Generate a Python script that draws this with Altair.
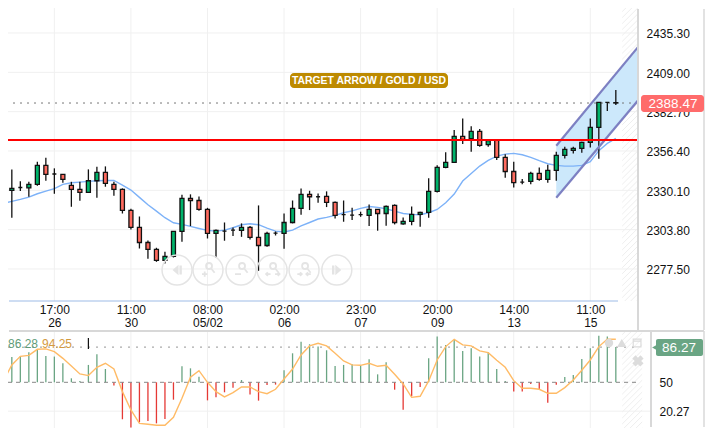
import altair as alt
import pandas as pd

FONT = "Liberation Sans"

highs = [2334.1,2344.1,2336.1,2335.8,2349.2,2351.9,2344.8,2340.7,2335.8,2335.8,2344.1,2345.9,2346.1,2335.8,2331.4,2317.8,2312.6,2296.6,2291.7,2289.0,2302.6,2327.1,2327.4,2326.0,2318.4,2303.9,2308.6,2305.3,2308.0,2306.2,2320.0,2302.4,2302.6,2314.6,2323.3,2331.4,2329.8,2328.0,2329.4,2322.7,2323.3,2318.4,2315.8,2320.7,2317.3,2320.0,2320.7,2312.0,2319.3,2315.8,2338.1,2346.8,2355.5,2370.4,2378.2,2372.9,2371.1,2363.7,2364.2,2354.3,2349.2,2337.6,2342.5,2345.4,2347.2,2355.9,2359.3,2359.3,2362.6,2378.2,2389.1,2389.1,2397.2]
lows = [2322.5,2311.8,2329.6,2325.8,2333.2,2336.5,2327.8,2335.2,2319.1,2323.1,2328.5,2325.1,2332.5,2326.5,2314.6,2303.9,2291.2,2284.3,2282.3,2281.2,2285.2,2295.7,2306.2,2316.4,2297.9,2285.0,2296.4,2299.5,2299.0,2297.3,2276.3,2292.3,2299.9,2291.0,2308.0,2313.8,2316.9,2321.8,2318.9,2311.3,2309.1,2310.2,2312.4,2306.2,2303.1,2306.4,2307.3,2307.1,2306.8,2305.7,2311.8,2328.7,2344.8,2348.8,2361.0,2355.9,2359.3,2359.3,2350.3,2338.5,2332.0,2334.1,2334.1,2336.5,2335.2,2336.5,2351.4,2354.8,2355.2,2358.8,2351.2,2383.1,2387.1]
opens = [2325.1,2330.0,2332.0,2331.8,2334.1,2346.8,2341.0,2340.7,2333.4,2330.7,2328.7,2336.5,2342.1,2334.1,2330.7,2316.7,2305.3,2295.2,2290.6,2283.2,2285.9,2302.6,2324.7,2323.3,2317.3,2301.3,2302.8,2303.5,2303.3,2305.3,2298.6,2293.2,2301.5,2301.3,2308.6,2318.0,2327.4,2325.8,2326.0,2322.0,2313.8,2313.5,2313.8,2313.3,2317.3,2314.6,2320.0,2307.7,2309.3,2314.0,2315.3,2329.4,2345.4,2348.8,2366.2,2364.6,2369.5,2360.6,2363.7,2352.1,2342.7,2335.6,2336.1,2341.4,2337.4,2343.4,2353.5,2356.8,2358.1,2362.1,2372.2,2388.9,2388.7]
closes = [2330.0,2331.4,2332.0,2334.1,2346.8,2340.7,2341.0,2337.4,2330.7,2328.7,2336.5,2342.1,2334.7,2330.7,2316.7,2305.3,2295.2,2290.6,2283.2,2285.9,2302.6,2324.7,2323.3,2317.3,2301.3,2303.3,2302.8,2303.5,2305.3,2298.6,2293.2,2301.3,2301.5,2308.6,2318.0,2327.4,2325.8,2325.8,2322.0,2313.3,2313.8,2313.5,2313.8,2317.3,2314.6,2319.3,2308.6,2309.3,2314.0,2315.3,2329.4,2345.4,2348.8,2366.2,2364.2,2369.5,2360.1,2363.3,2352.1,2342.7,2335.2,2335.6,2341.4,2337.4,2343.4,2353.5,2357.5,2358.1,2362.1,2372.2,2388.9,2388.9,2388.47]
ma_idx = list(range(-1, 73))
ma = [2320.4,2321.3,2322.7,2324.0,2325.6,2327.8,2329.6,2331.2,2334.1,2335.2,2335.6,2336.1,2336.5,2336.7,2336.7,2333.6,2330.3,2325.4,2320.4,2316.2,2311.8,2308.4,2307.3,2306.0,2304.6,2303.3,2302.8,2303.5,2305.1,2307.1,2307.7,2307.1,2304.8,2302.8,2302.2,2303.5,2306.4,2308.6,2310.9,2312.0,2313.3,2315.1,2316.4,2318.0,2319.3,2318.7,2317.8,2316.2,2314.6,2314.0,2313.8,2315.1,2317.3,2321.8,2327.6,2336.3,2341.4,2346.3,2350.1,2353.0,2354.3,2354.8,2353.9,2352.1,2349.9,2347.9,2346.8,2346.3,2346.3,2346.8,2349.2,2356.6,2361.5,2364.8]
hist = [77.5,76.1,76.5,80.9,84.4,77.1,76.5,69.6,54.1,51.4,67.9,78.9,63.7,46.6,11.9,3.3,8.8,10.1,7.7,12.2,32.1,66.5,64.4,55.8,31.4,34.5,39.7,44.5,52.4,37.3,31.1,47.3,47.6,62.4,79.9,91.9,89.2,86.8,83.0,66.8,67.9,68.6,67.2,73.7,58.2,70.6,42.4,21.8,35.6,45.2,74.7,97.1,88.5,93.6,82.3,85.0,76.5,80.9,63.7,51.4,40.4,40.4,48.3,42.8,29.0,47.6,55.5,57.6,74.1,85.0,98.1,97.1,86.27]
signal = [36.9,51.4,67.9,76.8,77.8,84.0,84.4,81.6,74.7,66.8,58.6,56.9,65.5,69.6,63.7,40.4,21.5,7.7,6.7,5.7,5.7,13.9,33.5,55.2,62.0,50.0,40.4,34.9,39.3,45.2,45.2,40.4,38.3,42.8,53.4,63.7,78.2,87.5,90.2,87.5,79.9,72.0,67.9,67.5,69.6,66.5,67.5,58.2,48.3,34.5,35.6,51.4,73.0,86.8,94.3,88.5,87.5,82.3,80.6,72.7,65.5,51.7,43.8,43.8,42.8,38.7,38.7,44.5,52.4,62.4,73.0,86.8,94.3,94.3]

tick_idx = [6, 15, 24, 33, 42, 51, 60, 69]
tick_time = ["17:00", "11:00", "08:00", "02:00", "23:00", "20:00", "14:00", "11:00"]
tick_date = ["26", "30", "05/02", "06", "07", "09", "13", "15"]
price_ticks = [2277.5, 2303.8, 2330.1, 2356.4, 2382.7, 2409.0, 2435.3]
osc_ticks = [50, 20.27]
last_price = 2388.47
level_price = 2363.7
channel_x = [65, 74.65]
channel_up = [2359.9, 2426.2]
channel_lo = [2325.1, 2390.5]
osc_last = 86.27

WIDTH_MAIN, H_MAIN = 630, 293
WIDTH_OSC, H_OSC = 643, 98
R_EDGE = 696
XMIN = 0.55
XMAX_MAIN = XMIN + WIDTH_MAIN / 8.507
XMAX_OSC = XMIN + WIDTH_OSC / 8.507
PMIN, PMAX = 2256.1, 2452.0
VMIN, VMAX = 2.9, 103.9

GREEN, RED = "#00b36b", "#ff6b5f"
GRID = "#f0f0f0"
ICON = "#e4e4e4"

label_map = ",".join(f"{i}:'{t}|{d}'" for i, t, d in zip(tick_idx, tick_time, tick_date))
x_axis_main = alt.Axis(
    values=tick_idx, labelExpr=f"split(({{{label_map}}})[datum.value],'|')",
    grid=False, domain=False, ticks=False,
    labelFont=FONT, labelFontSize=12, labelColor="#111", labelPadding=3,
    labelLineHeight=13, labelFlush=False, labelOverlap=False, labelBaseline="top",
)
y_axis_main = alt.Axis(
    orient="right", values=price_ticks, format=".2f", grid=False,
    domain=False, ticks=False, labelFont=FONT, labelFontSize=12, labelColor="#111",
    labelPadding=8, labelAlign="left", labelOverlap=False, labelOffset=1,
)
x_axis_osc = alt.Axis(values=tick_idx, labels=False, grid=False, domain=False, ticks=False)
y_axis_osc = alt.Axis(
    orient="right", values=osc_ticks, labelExpr="datum.value", grid=False, domain=False, ticks=False,
    labelFont=FONT, labelFontSize=12, labelColor="#111", labelPadding=8, labelAlign="left", labelOverlap=False,
)


def xm():
    return alt.X("i:Q", scale=alt.Scale(domain=[XMIN, XMAX_MAIN], nice=False, zero=False, padding=0), axis=x_axis_main, title=None)


def ym(field="p"):
    return alt.Y(f"{field}:Q", scale=alt.Scale(domain=[PMIN, PMAX], nice=False, zero=False), axis=y_axis_main, title=None)


def xo():
    return alt.X("i:Q", scale=alt.Scale(domain=[XMIN, XMAX_OSC], nice=False, zero=False, padding=0), axis=x_axis_osc, title=None)


def yo(field="v"):
    return alt.Y(f"{field}:Q", scale=alt.Scale(domain=[VMIN, VMAX], nice=False, zero=False), axis=y_axis_osc, title=None)


hatch_df = pd.DataFrame(
    [{"i": 72.75 + k * 0.7 - 40, "i2": 72.75 + k * 0.7 + 40, "p": 2350 - 40 * 5.69, "p2": 2350 + 40 * 5.69} for k in range(-30, 30)]
)

df = pd.DataFrame({"i": list(range(len(highs))), "h": highs, "l": lows, "o": opens, "c": closes})
df["col"] = [GREEN if c >= o else RED for o, c in zip(opens, closes)]
ma_df = pd.DataFrame({"i": ma_idx, "p": ma})

hatch = alt.Chart(hatch_df).mark_rule(color="#eeeeee", strokeWidth=1, clip=True).encode(x=xm(), x2="i2:Q", y=ym(), y2="p2:Q")
mask = alt.Chart(pd.DataFrame({"i": [XMIN], "i2": [72.75], "p": [PMIN], "p2": [PMAX]})).mark_rect(color="white", clip=True).encode(
    x=xm(), x2="i2:Q", y=ym(), y2="p2:Q"
)
grid_v = alt.Chart(pd.DataFrame({"i": tick_idx})).mark_rule(color=GRID, strokeWidth=1, clip=True).encode(x=xm())
grid_h = alt.Chart(pd.DataFrame({"p": price_ticks})).mark_rule(color=GRID, strokeWidth=1, clip=True).encode(y=ym())

band_df = pd.DataFrame({"i": channel_x, "p": channel_up, "p2": channel_lo})
band = alt.Chart(band_df).mark_area(color="#cce8fb", opacity=1, clip=True).encode(x=xm(), y=ym(), y2="p2:Q")
band_up = alt.Chart(band_df).mark_line(color="#7d80c2", strokeWidth=2.2, clip=True).encode(x=xm(), y=ym())
band_lo = alt.Chart(band_df).mark_line(color="#7d80c2", strokeWidth=2.2, clip=True).encode(x=xm(), y=ym("p2"))

dotted = alt.Chart(pd.DataFrame({"p": [last_price]})).mark_rule(color="#777777", strokeWidth=1, strokeDash=[2, 5], clip=True).encode(y=ym())
ma_line = alt.Chart(ma_df).mark_line(color="#7db2f8", strokeWidth=1.4, clip=True).encode(x=xm(), y=ym())
wicks = alt.Chart(df).mark_rule(color="#111111", strokeWidth=1.3, clip=True).encode(x=xm(), y=ym("l"), y2="h:Q")
bodies = alt.Chart(df).mark_bar(size=4, stroke="#111111", strokeWidth=1.3, clip=True).encode(
    x=xm(), y=ym("o"), y2="c:Q", color=alt.Color("col:N", scale=None)
)
level = alt.Chart(pd.DataFrame({"p": [level_price]})).mark_rule(color="#ff0000", strokeWidth=2, clip=True).encode(y=ym())

icon_i = [20.42, 24.06, 27.94, 31.59, 35.35, 39.2]
icon_y = 2276.8
lens_path = "M-0.13 -0.27 A0.2 0.2 0 1 0 0.27 -0.27 A0.2 0.2 0 1 0 -0.13 -0.27 M0.2 -0.12 L0.44 0.18 "
icon_paths = [
    "M-0.3 0 L0.1 -0.35 L0.1 0.35 Z M0.16 -0.3 L0.32 -0.3 L0.32 0.3 L0.16 0.3 Z",
    lens_path + "M-0.4 0.27 L-0.05 0.27 M-0.22 0.1 L-0.22 0.45",
    lens_path + "M-0.4 0.27 L0 0.27",
    lens_path + "M-0.1 0.27 L-0.4 0.27 M-0.28 0.15 L-0.4 0.27 L-0.28 0.39 M0.2 0.27 L0.5 0.27 M0.38 0.15 L0.5 0.27 L0.38 0.39",
    lens_path + "M-0.45 0.27 L-0.15 0.27 M-0.27 0.15 L-0.15 0.27 L-0.27 0.39 M0.45 0.27 L0.15 0.27 M0.27 0.15 L0.15 0.27 L0.27 0.39",
    "M0.3 0 L-0.1 -0.35 L-0.1 0.35 Z M-0.16 -0.3 L-0.32 -0.3 L-0.32 0.3 L-0.16 0.3 Z",
]
icon_df = pd.DataFrame({"i": icon_i, "p": [icon_y] * 6, "path": icon_paths})
circles = alt.Chart(icon_df).mark_point(shape="circle", size=900, filled=False, color=ICON, strokeWidth=1.5, opacity=1).encode(x=xm(), y=ym())
glyph_line = alt.Chart(icon_df.iloc[1:5]).mark_point(filled=False, size=900, color=ICON, strokeWidth=1.8, opacity=1).encode(
    x=xm(), y=ym(), shape=alt.Shape("path:N", scale=None, legend=None)
)
glyph_fill = alt.Chart(icon_df.iloc[[0, 5]]).mark_point(filled=True, size=900, color=ICON, opacity=1).encode(
    x=xm(), y=ym(), shape=alt.Shape("path:N", scale=None, legend=None)
)

nav_line = alt.Chart().mark_rule(color="#9dbbe6", strokeWidth=1).encode(x=alt.value(1), x2=alt.value(610), y=alt.value(293))
sep_v = alt.Chart().mark_rule(color="#d8d8d8", strokeWidth=2).encode(x=alt.value(630), y=alt.value(1), y2=alt.value(322))
sep_r = alt.Chart().mark_rule(color="#d8d8d8", strokeWidth=1.5).encode(x=alt.value(R_EDGE), y=alt.value(1), y2=alt.value(322))
badge = alt.Chart().mark_rect(color="#bd8a00", cornerRadius=4).encode(
    x=alt.value(282), x2=alt.value(440), y=alt.value(65), y2=alt.value(80)
)
badge_t = alt.Chart().mark_text(text="TARGET ARROW / GOLD / USD", color="white", font=FONT, fontSize=10.4, fontWeight="bold").encode(
    x=alt.value(361), y=alt.value(73)
)
tag = alt.Chart().mark_rect(color="#ff6b6b", cornerRadius=3).encode(
    x=alt.value(633), x2=alt.value(R_EDGE), y=alt.value(87), y2=alt.value(104)
)
tag_t = alt.Chart().mark_text(text=f"{last_price:.2f}", color="white", font=FONT, fontSize=13.5).encode(
    x=alt.value(665), y=alt.value(96)
)

main = alt.layer(
    hatch, mask, grid_v, grid_h, band, dotted, ma_line, wicks, bodies, band_up, band_lo, level,
    circles, glyph_line, glyph_fill, nav_line, sep_v, sep_r, badge, badge_t, tag, tag_t,
).properties(width=WIDTH_MAIN, height=H_MAIN)

# oscillator panel
osc_df = pd.DataFrame({"i": list(range(len(hist))), "v": hist})
osc_df["base"] = 50
osc_df["col"] = ["#6aa583" if v >= 50 else "#e53935" for v in hist]
sig_df = pd.DataFrame({"i": ma_idx, "v": signal})

o_hatch_df = pd.DataFrame(
    [{"i": 72.75 + k * 0.7 - 10, "i2": 72.75 + k * 0.7 + 10, "v": 50 - 10 * 8.77, "v2": 50 + 10 * 8.77} for k in range(-20, 20)]
)
o_hatch = alt.Chart(o_hatch_df).mark_rule(color="#eeeeee", strokeWidth=1, clip=True).encode(x=xo(), x2="i2:Q", y=yo(), y2="v2:Q")
o_mask = alt.Chart(pd.DataFrame({"i": [XMIN, 75.1], "i2": [72.75, XMAX_OSC], "v": [VMIN, VMIN], "v2": [VMAX, VMAX]})).mark_rect(color="white", clip=True).encode(
    x=xo(), x2="i2:Q", y=yo(), y2="v2:Q"
)
o_grid_v = alt.Chart(pd.DataFrame({"i": tick_idx})).mark_rule(color=GRID, strokeWidth=1, clip=True).encode(x=xo())
o_grid = alt.Chart(pd.DataFrame({"v": [20.27], "i": [XMIN], "i2": [XMAX_OSC]})).mark_rule(color=GRID, strokeWidth=1, clip=True).encode(x=xo(), x2="i2:Q", y=yo())
o_dot = alt.Chart(pd.DataFrame({"v": [osc_last], "i": [XMIN], "i2": [74.6]})).mark_rule(color="#aaaaaa", strokeWidth=1.2, strokeDash=[2, 6], clip=True).encode(
    x=xo(), x2="i2:Q", y=yo()
)
o_zero = alt.Chart(pd.DataFrame({"v": [50], "i": [XMIN], "i2": [74.6]})).mark_rule(color="#888888", strokeWidth=1, strokeDash=[4, 4], clip=True).encode(
    x=xo(), x2="i2:Q", y=yo()
)
o_bars = alt.Chart(osc_df).mark_rule(strokeWidth=1.3, clip=True).encode(
    x=xo(), y=yo(), y2="base:Q", color=alt.Color("col:N", scale=None)
)
o_line = alt.Chart(sig_df).mark_line(color="#ffbb66", strokeWidth=1.4, clip=True).encode(x=xo(), y=yo())
o_cursor = alt.Chart(pd.DataFrame({"i": [10], "v": [95.7], "v2": [84.3]})).mark_rule(color="#111111", strokeWidth=1.2).encode(
    x=xo(), y=yo(), y2="v2:Q"
)
o_txt1 = alt.Chart().mark_text(text="86.28", color="#5f9c78", font=FONT, fontSize=12, align="left").encode(x=alt.value(0), y=alt.value(14))
o_txt2 = alt.Chart().mark_text(text="94.25", color="#d49a3f", font=FONT, fontSize=12, align="left").encode(x=alt.value(34), y=alt.value(14))

mini_df = pd.DataFrame({
    "i": [71.2, 72.7, 74.5, 74.6],
    "v": [90.5, 90.5, 90.5, 72.0],
    "s": ["circle", "triangle-up", "M-1 -1 L1 -1 L1 1 L-1 1 Z M-1 -0.5 L1 -0.5", "cross"],
    "sz": [70, 90, 60, 130],
    "a": [0, 0, 0, 45],
})
minis = alt.Chart(mini_df.iloc[[0, 1, 3]]).mark_point(filled=True, color="#dcdcdc", opacity=1).encode(
    x=xo(), y=yo(), shape=alt.Shape("s:N", scale=None, legend=None),
    size=alt.Size("sz:Q", scale=None, legend=None), angle=alt.Angle("a:Q", scale=None),
)
mini_sq = alt.Chart(mini_df.iloc[[2]]).mark_point(filled=False, color="#dcdcdc", opacity=1, strokeWidth=1.2).encode(
    x=xo(), y=yo(), shape=alt.Shape("s:N", scale=None, legend=None), size=alt.Size("sz:Q", scale=None, legend=None),
)

o_top = alt.Chart().mark_rule(color="#d8d8d8", strokeWidth=2).encode(x=alt.value(1), x2=alt.value(R_EDGE), y=alt.value(1))
o_sep = alt.Chart().mark_rule(color="#d8d8d8", strokeWidth=2).encode(x=alt.value(643), y=alt.value(1), y2=alt.value(97))
o_sepr = alt.Chart().mark_rule(color="#d8d8d8", strokeWidth=1.5).encode(x=alt.value(R_EDGE), y=alt.value(1), y2=alt.value(97))
o_tag = alt.Chart().mark_rect(color="#6aa584", cornerRadius=2).encode(
    x=alt.value(648), x2=alt.value(R_EDGE - 1), y=alt.value(9), y2=alt.value(26)
)
o_tag_tip = alt.Chart().mark_point(shape="triangle-left", filled=True, color="#6aa584", size=45, opacity=1).encode(
    x=alt.value(647), y=alt.value(17.5)
)
o_tag_t = alt.Chart().mark_text(text=f"{osc_last:.2f}", color="white", font=FONT, fontSize=13.5).encode(
    x=alt.value(671), y=alt.value(18)
)

osc = alt.layer(
    o_hatch, o_mask, o_grid_v, o_grid, o_bars, o_dot, o_zero, o_line, o_cursor, o_txt1, o_txt2,
    minis, mini_sq, o_top, o_sep, o_sepr, o_tag, o_tag_tip, o_tag_t,
).properties(width=WIDTH_OSC, height=H_OSC)

chart = alt.vconcat(main, osc, spacing=29, bounds="flush").properties(padding=0).configure_view(stroke=None)

chart.save("out.html", embed_options={"renderer": "svg", "actions": False})
